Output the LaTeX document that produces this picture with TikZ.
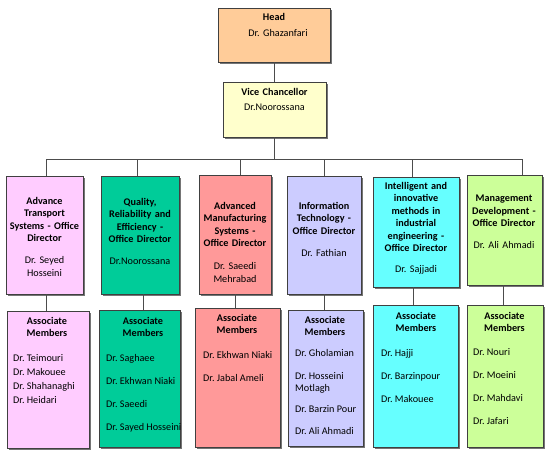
\documentclass[tikz,border=0pt]{standalone}
\usepackage{fontspec}
\setmainfont{Carlito}
\usepackage{xcolor}
\usetikzlibrary{shadows, positioning, calc}
\frenchspacing

\definecolor{headfill}{HTML}{FFCC99}
\definecolor{vcfill}{HTML}{FFFFCC}
\definecolor{transfill}{HTML}{FFCCFF}
\definecolor{qualfill}{HTML}{00CC99}
\definecolor{manufill}{HTML}{FF9999}
\definecolor{infofill}{HTML}{CCCCFF}
\definecolor{intelfill}{HTML}{66FFFF}
\definecolor{mgmtfill}{HTML}{CCFF99}

\begin{document}
\begin{tikzpicture}[
    x=1pt, y=-1pt,
    box/.style={draw=black!75, line width=0.8pt, fill=#1, inner sep=0pt,
        drop shadow={shadow xshift=2pt, shadow yshift=-2pt, fill=black!60, opacity=0.9}},
    title/.style={anchor=north, align=center, text width=84, inner sep=0pt, font=\fontsize{10.2}{12.5}\selectfont},
    hdr/.style={anchor=north, align=center, inner sep=0pt, font=\fontsize{10.2}{12.5}\selectfont\bfseries},
    names/.style={anchor=north west, align=left, inner sep=0pt, font=\fontsize{10.2}{12.5}\selectfont},
    link/.style={draw=black!70, line width=0.8pt}
]
\path[fill=white, use as bounding box] (0,0) rectangle (550,458);

% Head and vice chancellor
\node[box=headfill, minimum width=112, minimum height=54] (head) at (274,35) {};
\node[title] (headt) at (274,13) {\textbf{Head}\hspace*{8pt}\\[3.5pt]\hspace*{8pt}Dr. Ghazanfari};
\node[box=vcfill, minimum width=103, minimum height=55] (vc) at (274.5,109.5) {};
\node[title] (vct) at (274.5,88) {\textbf{Vice Chancellor}\\[2.5pt]Dr.Noorossana};

% Office directors
\node[box=transfill, minimum width=77, minimum height=118] (d1) at (44.5,235) {};
\node[title] (d1t) at (44.5,197) {\bfseries Advance\\Transport\\Systems - Office\\Director\\[9.5pt]\mdseries Dr. Seyed\\Hosseini};
\node[box=qualfill, minimum width=78, minimum height=118] (d2) at (140,235) {};
\node[title] (d2t) at (140,198) {\bfseries Quality,\\Reliability and\\Efficiency -\\Office Director\\[9.5pt]\mdseries Dr.Noorossana};
\node[box=manufill, minimum width=72, minimum height=119] (d3) at (235,234.5) {};
\node[title] (d3t) at (235,202) {\bfseries Advanced\\Manufacturing\\Systems -\\Office Director\\[10.5pt]\mdseries Dr. Saeedi\\Mehrabad};
\node[box=infofill, minimum width=74, minimum height=118] (d4) at (324,235) {};
\node[title] (d4t) at (324,202) {\bfseries Information\\Technology -\\Office Director\\[9.5pt]\mdseries Dr. Fathian};
\node[box=intelfill, minimum width=86, minimum height=110] (d5) at (416,232) {};
\node[title] (d5t) at (416,182) {\bfseries Intelligent and\\innovative\\methods in\\industrial\\engineering -\\Office Director\\[8.5pt]\mdseries Dr. Sajjadi};
\node[box=mgmtfill, minimum width=75, minimum height=110] (d6) at (504.5,230) {};
\node[title] (d6t) at (504,195) {\bfseries Management\\Development -\\Office Director\\[9.5pt]\mdseries Dr. Ali Ahmadi};

% Associate members
\node[box=transfill, minimum width=82, minimum height=137] (a1) at (48,379.5) {};
\node[hdr] (a1h) at (47,317) {Associate\\Members};
\node[names] (a1n) at (13,354) {Dr. Teimouri\\[1.5pt]Dr. Makouee\\[1.5pt]Dr. Shahanaghi\\[1.5pt]Dr. Heidari};
\node[box=qualfill, minimum width=81, minimum height=137] (a2) at (139.5,378.5) {};
\node[hdr] (a2h) at (143,317) {Associate\\Members};
\node[names] (a2n) at (106,354) {Dr. Saghaee\\[10.5pt]Dr. Ekhwan Niaki\\[10.5pt]Dr. Saeedi\\[10.5pt]Dr. Sayed Hosseini};
\node[box=manufill, minimum width=85, minimum height=139] (a3) at (237.5,377.5) {};
\node[hdr] (a3h) at (237,314) {Associate\\Members};
\node[names] (a3n) at (203,351) {Dr. Ekhwan Niaki\\[10.5pt]Dr. Jabal Ameli};
\node[box=infofill, minimum width=75, minimum height=136] (a4) at (325.5,378) {};
\node[hdr] (a4h) at (325,316) {Associate\\Members};
\node[names] (a4n) at (295,349) {Dr. Gholamian\\[10.5pt]Dr. Hosseini\\Motlagh\\[8.5pt]Dr. Barzin Pour\\[9.5pt]Dr. Ali Ahmadi};
\node[box=intelfill, minimum width=85, minimum height=142] (a5) at (415.5,376) {};
\node[hdr] (a5h) at (416,312) {Associate\\Members};
\node[names] (a5n) at (381,349) {Dr. Hajji\\[10.5pt]Dr. Barzinpour\\[10.5pt]Dr. Makouee};
\node[box=mgmtfill, minimum width=76, minimum height=142] (a6) at (505,376) {};
\node[hdr] (a6h) at (504.5,312) {Associate\\Members};
\node[names] (a6n) at (473,348) {Dr. Nouri\\[10.5pt]Dr. Moeini\\[10.5pt]Dr. Mahdavi\\[10.5pt]Dr. Jafari};

% Connectors
\coordinate (bus) at (274,159);
\draw[link] (head.south) -- (head.south |- vc.north);
\draw[link] (vc.south) -- (vc.south |- bus);
\draw[link] ([xshift=1.5]d1.north |- bus) -- ([xshift=17.5]d6.north |- bus);
\foreach \i/\dx in {1/1.5, 2/-3, 3/5, 4/0, 5/-4, 6/17.5} {
    \draw[link] ([xshift=\dx]d\i.north) -- ([xshift=\dx]d\i.north |- bus);
}
\foreach \i/\dx in {1/1.5, 2/3, 3/0, 4/0, 5/-3, 6/-1.5} {
    \draw[link] ([xshift=\dx]d\i.south) -- ([xshift=\dx]d\i.south |- a\i.north);
}

\end{tikzpicture}
\end{document}
